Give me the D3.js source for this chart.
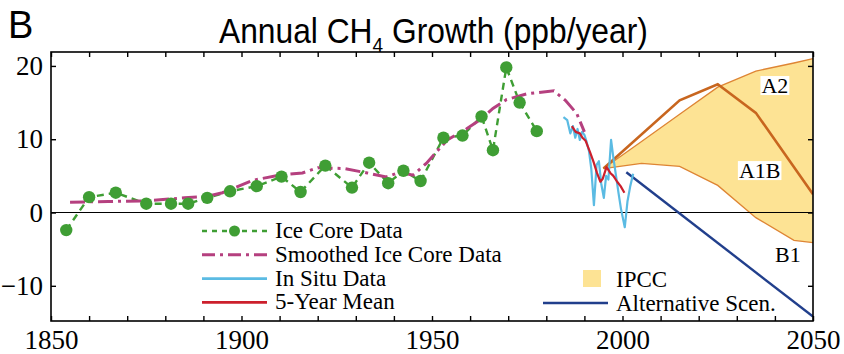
<!DOCTYPE html>
<html>
<head>
<meta charset="utf-8">
<script src="https://cdn.jsdelivr.net/npm/d3@7"></script>
<style>
  html, body { margin: 0; padding: 0; background: #ffffff; }
  svg { display: block; }
</style>
</head>
<body>
<svg id="chart" width="844" height="354"></svg>
<script>
// Ice core record (annual growth, ppb/year)
const iceYears  = [1854, 1860, 1867, 1875, 1881.5, 1886, 1891, 1897, 1904, 1910.5, 1915.5, 1922,
                   1929, 1933.5, 1938.5, 1942.5, 1947, 1953, 1958, 1963, 1966, 1969.5, 1973, 1977.5];
const iceValues = [-2.4, 2.1, 2.7, 1.2, 1.2, 1.2, 2.0, 2.9, 3.6, 4.9, 2.8, 6.4,
                   3.4, 6.8, 4.0, 5.7, 4.3, 10.2, 10.5, 13.1, 8.5, 19.8, 15.0, 11.1];

// Smoothed ice core record
const smoothYears  = [1855, 1865, 1875, 1885, 1891, 1895, 1903, 1910, 1916, 1920, 1927, 1933,
                      1938, 1941.5, 1945, 1948.5, 1954, 1959, 1963, 1966, 1969.5, 1975, 1982, 1985, 1988, 1990];
const smoothValues = [1.4, 1.5, 1.6, 2.0, 2.2, 2.7, 4.4, 5.1, 5.4, 6.1, 6.0, 5.4,
                      4.85, 5.5, 5.1, 6.7, 9.9, 11.4, 12.8, 14.2, 15.4, 16.2, 16.6, 15.3, 13.5, 11.0];

// In situ measurements
const situYears  = [1984.5, 1985.5, 1986.3, 1987, 1987.6, 1988.2, 1988.8, 1989.4, 1990, 1990.6, 1991.2,
                    1991.8, 1992.5, 1993.2, 1993.8, 1994.4, 1995.1, 1995.7, 1996.3, 1997, 1997.6,
                    1998.3, 1999, 1999.6, 2000.6, 2001.3, 2002, 2002.8];
const situValues = [13.0, 12.6, 10.8, 11.8, 10.2, 11.4, 9.9, 11.0, 10.6, 9.6, 8.4,
                    6.0, 1.0, 6.5, 7.0, 4.0, 2.0, 5.0, 4.5, 9.9, 7.5,
                    5.0, 2.5, 0.5, -2.0, 1.5, 3.5, 5.3];

// 5-year running mean of the in situ record
const meanYears  = [1986.7, 1987.7, 1988.8, 1989.5, 1990.3, 1991.5, 1992.4, 1993.3, 1994.2, 1994.8,
                    1995.8, 1996.8, 1997.6, 1998.6, 1999.5, 2000.5];
const meanValues = [11.8, 11.0, 10.8, 10.2, 9.8, 8.2, 6.9, 5.4, 4.2, 4.6,
                    6.2, 5.4, 5.0, 4.2, 3.6, 2.7];

// IPCC scenario envelope
const ipccYears = [1995, 2005, 2015, 2025, 2035, 2045, 2050];
const ipccHigh  = [6.0, 9.7, 13.4, 17.1, 19.3, 20.4, 21.0];
const ipccLow   = [6.0, 6.7, 6.3, 3.7, -0.7, -3.8, -4.1];

// Peaking scenario path inside the envelope
const peakYears  = [1995, 2015, 2025, 2035, 2050];
const peakValues = [6.0, 15.3, 17.5, 13.6, 2.5];

// Alternative scenario
const altYears  = [2001, 2050];
const altValues = [5.5, -14.2];

// Scenario labels (year, value of label baseline)
const scenarioNames  = ["A2", "A1B", "B1"];
const scenarioYears  = [2040, 2036, 2043.4];
const scenarioValues = [16.3, 4.7, -6.8];

// Axis ticks
const xTicks = d3.range(1850, 2051, 10);
const xLabels = [1850, 1900, 1950, 2000, 2050];
const yTicks = [-10, 0, 10, 20];

const SERIF = "'Liberation Serif', 'Times New Roman', serif";
const SANS = "'Liberation Sans', Arial, sans-serif";

const svg = d3.select("#chart");
const box = { left: 51, right: 813, top: 52, bottom: 321 };

const x = d3.scaleLinear().domain([1850, 2050]).range([box.left, box.right]);
const y = d3.scaleLinear().domain([-14.8, 21.9]).range([box.bottom, box.top]);

const zip = (xs, ys) => xs.map((v, i) => [v, ys[i]]);
const line = d3.line().x(d => x(d[0])).y(d => y(d[1]));

svg.append("clipPath").attr("id", "plotClip")
  .append("rect").attr("x", box.left).attr("y", box.top)
  .attr("width", box.right - box.left).attr("height", box.bottom - box.top);
const plot = svg.append("g").attr("clip-path", "url(#plotClip)");

// IPCC envelope
const envelope = d3.area()
  .x(d => x(d[0])).y0(d => y(d[2])).y1(d => y(d[1]));
const envData = ipccYears.map((yr, i) => [yr, ipccHigh[i], ipccLow[i]]);
plot.append("path").attr("d", envelope(envData))
  .attr("fill", "#fde394").attr("stroke", "none");
plot.append("path").attr("d", line(zip(ipccYears, ipccHigh)))
  .attr("fill", "none").attr("stroke", "#de8534").attr("stroke-width", 1.3);
plot.append("path").attr("d", line(zip(ipccYears, ipccLow)))
  .attr("fill", "none").attr("stroke", "#de8534").attr("stroke-width", 1.3);
plot.append("path").attr("d", line(zip(peakYears, peakValues)))
  .attr("fill", "none").attr("stroke", "#c8661f").attr("stroke-width", 2.6);

// Zero line
plot.append("line").attr("x1", box.left).attr("x2", box.right).attr("y1", y(0)).attr("y2", y(0))
  .attr("stroke", "#000").attr("stroke-width", 1.2);

// Alternative scenario
plot.append("path").attr("d", line(zip(altYears, altValues)))
  .attr("fill", "none").attr("stroke", "#213f8c").attr("stroke-width", 2.4);

// In situ and running mean
plot.append("path").attr("d", line(zip(situYears, situValues)))
  .attr("fill", "none").attr("stroke", "#5bbbe3").attr("stroke-width", 2.2)
  .attr("stroke-linejoin", "round");
plot.append("path").attr("d", line(zip(meanYears, meanValues)))
  .attr("fill", "none").attr("stroke", "#cc1f2c").attr("stroke-width", 2.2)
  .attr("stroke-linejoin", "round");

// Ice core dashed line
plot.append("path").attr("d", line(zip(iceYears, iceValues)))
  .attr("fill", "none").attr("stroke", "#3f9e34").attr("stroke-width", 2.4)
  .attr("stroke-dasharray", "7,5");

// Smoothed ice core (dash-dot)
plot.append("path").attr("d", line(zip(smoothYears, smoothValues)))
  .attr("fill", "none").attr("stroke", "#b5407f").attr("stroke-width", 3)
  .attr("stroke-dasharray", "15,5,3,5");

// Ice core points
plot.selectAll("circle.ice").data(zip(iceYears, iceValues)).join("circle")
  .attr("class", "ice")
  .attr("cx", d => x(d[0])).attr("cy", d => y(d[1])).attr("r", 6.2)
  .attr("fill", "#3f9e34");

// Scenario labels with white backing
scenarioNames.forEach((name, i) => {
  const g = svg.append("g");
  const t = g.append("text").attr("font-family", SERIF)
    .attr("x", x(scenarioYears[i])).attr("y", y(scenarioValues[i]))
    .attr("text-anchor", "middle").attr("font-size", 22).attr("fill", "#000")
    .text(name);
  const b = t.node().getBBox();
  g.insert("rect", "text")
    .attr("x", b.x - 1).attr("y", b.y + 3).attr("width", b.width + 2).attr("height", b.height - 6)
    .attr("fill", "#fff");
});

// Frame
svg.append("rect").attr("x", box.left).attr("y", box.top)
  .attr("width", box.right - box.left).attr("height", box.bottom - box.top)
  .attr("fill", "none").attr("stroke", "#000").attr("stroke-width", 1.6);

// Axes
function styleAxis(g) {
  g.attr("font-family", SERIF).attr("font-size", 27);
  g.select(".domain").remove();
  g.selectAll(".tick line").attr("stroke", "#000").attr("stroke-width", 1.4);
  g.selectAll(".tick text").attr("fill", "#000");
}
svg.append("g").attr("transform", `translate(0,${box.bottom})`)
  .call(d3.axisBottom(x).tickValues(xTicks).tickSize(-5).tickPadding(9)
    .tickFormat(d => xLabels.includes(d) ? String(d) : ""))
  .call(styleAxis);
svg.append("g").attr("transform", `translate(0,${box.top})`)
  .call(d3.axisTop(x).tickValues(xTicks).tickSize(-5).tickFormat(""))
  .call(styleAxis);
svg.append("g").attr("transform", `translate(${box.left},0)`)
  .call(d3.axisLeft(y).tickValues(yTicks).tickSize(-5).tickPadding(8))
  .call(styleAxis);
svg.append("g").attr("transform", `translate(${box.right},0)`)
  .call(d3.axisRight(y).tickValues(yTicks).tickSize(-5).tickFormat(""))
  .call(styleAxis);

// Left legend
const legendRows = [
  { label: "Ice Core Data", color: "#3f9e34", dash: "5,5", width: 2.4, dot: true },
  { label: "Smoothed Ice Core Data", color: "#b5407f", dash: "13,5,3,5", width: 3 },
  { label: "In Situ Data", color: "#5bbbe3", dash: null, width: 2.6 },
  { label: "5-Year Mean", color: "#cc1f2c", dash: null, width: 2.6 }
];
const legX0 = 202, legX1 = 267, legTextX = 275, legBase = 238, legStep = 23.8;
legendRows.forEach((r, i) => {
  const base = legBase + i * legStep;
  const ly = base - 7;
  svg.append("line").attr("x1", legX0).attr("x2", legX1).attr("y1", ly).attr("y2", ly)
    .attr("stroke", r.color).attr("stroke-width", r.width)
    .attr("stroke-dasharray", r.dash);
  if (r.dot) {
    svg.append("circle").attr("cx", (legX0 + legX1) / 2).attr("cy", ly).attr("r", 5.5).attr("fill", r.color);
  }
  svg.append("text").attr("font-family", SERIF).attr("x", legTextX).attr("y", base)
    .attr("font-size", 23).attr("fill", "#000").text(r.label);
});

// Right legend
svg.append("rect").attr("x", 583).attr("y", 270).attr("width", 18).attr("height", 17).attr("fill", "#fde394");
svg.append("text").attr("font-family", SERIF).attr("x", 616).attr("y", 287)
  .attr("font-size", 23).attr("fill", "#000").text("IPCC");
svg.append("line").attr("x1", 543).attr("x2", 608).attr("y1", 303).attr("y2", 303)
  .attr("stroke", "#213f8c").attr("stroke-width", 2.6);
svg.append("text").attr("font-family", SERIF).attr("x", 616).attr("y", 310.5)
  .attr("font-size", 23).attr("fill", "#000").text("Alternative Scen.");

// Panel letter and title
svg.append("text").attr("font-family", SANS).attr("x", 8).attr("y", 38)
  .attr("font-size", 38).attr("fill", "#000").text("B");
const titleG = svg.append("g");
const title = titleG.append("text").attr("font-family", SANS).attr("x", 0).attr("y", 0)
  .attr("font-size", 35).attr("fill", "#000");
title.append("tspan").text("Annual CH");
title.append("tspan").attr("font-size", 21).attr("dy", 9).text("4");
title.append("tspan").attr("dy", -9).text(" Growth (ppb/year)");
// squeeze the title into a condensed face spanning 219..648
const tw = title.node().getComputedTextLength();
const sx = 429 / tw;
titleG.attr("transform", `translate(219,43) scale(${sx},1)`);
</script>
</body>
</html>
